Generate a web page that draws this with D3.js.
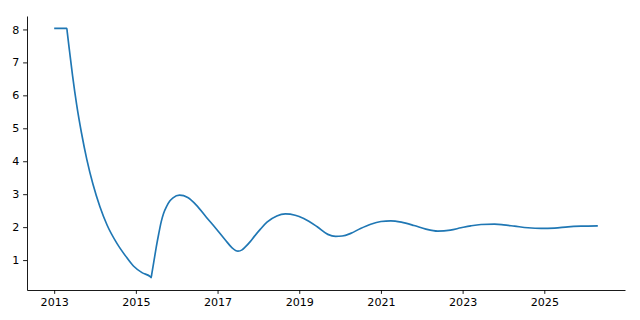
<!DOCTYPE html>
<html>
<head>
<meta charset="utf-8">
<script src="https://cdn.jsdelivr.net/npm/d3@7"></script>
<style>
  body { margin: 0; background: #fff; }
  svg { display: block; }
  .tick text { font-family: "DejaVu Sans", sans-serif; font-size: 11.1px; fill: #000; }
  .tick line, .domain { stroke: #000; stroke-width: 0.9px; }
</style>
</head>
<body>
<svg class="chart"></svg>
<script>
// decimal years and values
const years = [
  2013.0, 2013.31, 2013.32, 2013.38, 2013.45, 2013.55, 2013.67, 2013.8, 2013.95, 2014.12,
  2014.3, 2014.54, 2014.75, 2014.94, 2015.15, 2015.36, 2015.375, 2015.39, 2015.44, 2015.5,
  2015.56, 2015.62, 2015.68, 2015.75, 2015.83, 2015.91, 2016.07, 2016.27, 2016.48, 2016.72,
  2016.96, 2017.19, 2017.35, 2017.5, 2017.6, 2017.68, 2017.8, 2017.9, 2018.05, 2018.21,
  2018.45, 2018.66, 2018.9, 2019.11, 2019.44, 2019.7, 2019.89, 2020.05, 2020.26, 2020.5,
  2020.75, 2021.0, 2021.24, 2021.5, 2021.81, 2022.1, 2022.39, 2022.7, 2022.96, 2023.2,
  2023.45, 2023.78, 2024.0, 2024.27, 2024.6, 2024.92, 2025.25, 2025.58, 2025.9, 2026.31
]
const values = [
  8.03, 8.03, 7.92, 7.3, 6.6, 5.72, 4.85, 4.05, 3.3, 2.62,
  2.05, 1.5, 1.12, 0.82, 0.62, 0.49, 0.47, 0.58, 0.95, 1.4,
  1.8, 2.16, 2.42, 2.62, 2.79, 2.89, 2.97, 2.9, 2.67, 2.31,
  1.96, 1.61, 1.38, 1.27, 1.31, 1.4, 1.56, 1.72, 1.94, 2.15,
  2.34, 2.4, 2.36, 2.26, 2.01, 1.78, 1.72, 1.73, 1.81, 1.96,
  2.09, 2.17, 2.19, 2.15, 2.05, 1.94, 1.88, 1.91, 1.98, 2.04,
  2.08, 2.09, 2.07, 2.03, 1.98, 1.96, 1.97, 2.01, 2.03, 2.04
]
const xTicks = [2013, 2015, 2017, 2019, 2021, 2023, 2025]
const yTicks = [1, 2, 3, 4, 5, 6, 7, 8]

const width = 640
const height = 320
const margin = { top: 16, right: 15, bottom: 30, left: 27 }

const data = years.map((year, i) => ({ year, value: values[i] }))

// matplotlib-style 5% padding around the data
const pad = ([lo, hi]) => [lo - (hi - lo) * 0.05, hi + (hi - lo) * 0.05]

const x = d3.scaleLinear()
  .domain(pad(d3.extent(years)))
  .range([margin.left, width - margin.right])

const y = d3.scaleLinear()
  .domain(pad(d3.extent(values)))
  .range([height - margin.bottom, margin.top])

const chart = d3.select('.chart')
  .attr('width', width)
  .attr('height', height)

chart.append('g')
  .attr('transform', `translate(0,${height - margin.bottom})`)
  .call(d3.axisBottom(x).tickValues(xTicks).tickFormat(d3.format('d'))
    .tickSize(3.9).tickSizeOuter(0).tickPadding(3.9))
  .call(g => g.selectAll('.tick text').attr('dy', '0.76em'))

chart.append('g')
  .attr('transform', `translate(${margin.left},0)`)
  .call(d3.axisLeft(y).tickValues(yTicks).tickFormat(d3.format('d'))
    .tickSize(3.9).tickSizeOuter(0).tickPadding(3.9))

chart.selectAll('.domain').attr('fill', 'none')

const line = d3.line()
  .x(d => x(d.year))
  .y(d => y(d.value))
  .curve(d3.curveMonotoneX)

chart.append('path')
  .datum(data)
  .attr('fill', 'none')
  .attr('stroke', '#1f77b4')
  .attr('stroke-width', 1.67)
  .attr('stroke-linejoin', 'round')
  .attr('d', line)
</script>
</body>
</html>
